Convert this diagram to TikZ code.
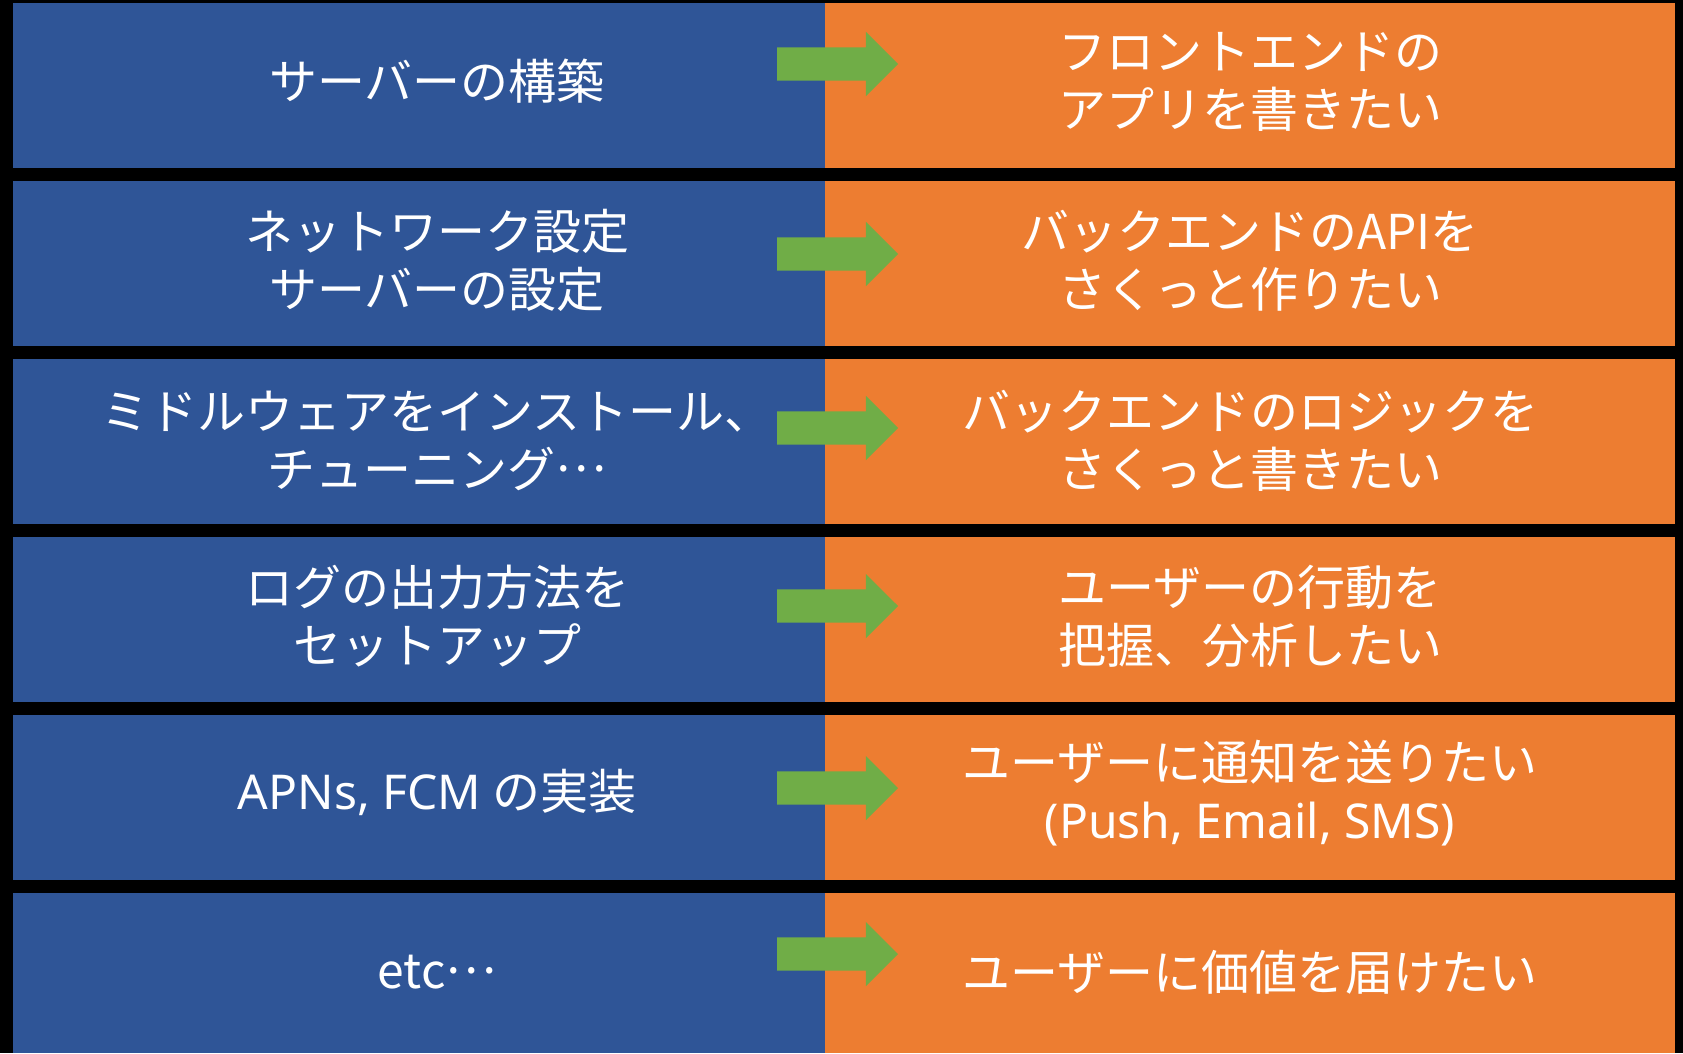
\documentclass[tikz,border=0pt]{standalone}
\usepackage{fontspec}
\setmainfont{Noto Sans CJK JP}
\newfontfamily\latinfont{Noto Sans}
\newcommand{\midots}{\smash{\raisebox{0.32em}{…}}}
\usetikzlibrary{shapes.arrows}
\definecolor{boxblue}{HTML}{2F5597}
\definecolor{boxorange}{HTML}{ED7D31}
\definecolor{arrowgreen}{HTML}{70AD47}

\begin{document}
\begin{tikzpicture}
  \tikzstyle{every node}=[inner sep=0pt, outer sep=0pt]
  \tikzstyle{lbox}=[rectangle, fill=boxblue, minimum width=812pt, minimum height=165pt]
  \tikzstyle{rbox}=[rectangle, fill=boxorange, minimum width=850pt, minimum height=165pt]
  \tikzstyle{boxtext}=[text=white, align=center, font=\fontsize{48pt}{58pt}\selectfont]
  \tikzstyle{fatarrow}=[single arrow, fill=arrowgreen, minimum height=121pt, single arrow head extend=15.5pt, single arrow tip angle=90, inner xsep=0pt, inner ysep=16.5pt, anchor=tail]
    \fill[black] (0pt,0pt) rectangle (1683pt,-1053pt);
    \matrix[anchor=north west, row sep=13pt, column sep=0pt] at (13pt,-3pt)
    {
      \node[lbox] (L1){}; & \node[rbox] (R1){}; \\
      \node[lbox] (L2){}; & \node[rbox] (R2){}; \\
      \node[lbox] (L3){}; & \node[rbox] (R3){}; \\
      \node[lbox] (L4){}; & \node[rbox] (R4){}; \\
      \node[lbox] (L5){}; & \node[rbox] (R5){}; \\
      \node[lbox, minimum height=160pt] (L6){}; & \node[rbox, minimum height=160pt] (R6){}; \\
    };
    % what we do
    \node[boxtext] (T1) at ([xshift=18pt, yshift=4pt]L1) {サーバーの構築};
    \node[boxtext] (T2) at ([xshift=18pt, yshift=3pt]L2) {ネットワーク設定\\サーバーの設定};
    \node[boxtext] (T3) at ([xshift=18pt, yshift=1pt]L3) {ミドルウェアをインストール、\\チューニング\midots};
    \node[boxtext] (T4) at ([xshift=18pt, yshift=3pt]L4) {ログの出力方法を\\セットアップ};
    \node[boxtext] (T5) at ([xshift=18pt, yshift=5pt]L5) {{\latinfont APNs, FCM} の実装};
    \node[boxtext] (T6) at ([xshift=18pt, yshift=1pt]L6) {etc\midots};
    % what we want
    \node[boxtext] (U1) at ([yshift=4pt]R1) {フロントエンドの\\アプリを書きたい};
    \node[boxtext] (U2) at ([yshift=3pt]R2) {バックエンドのAPIを\\さくっと作りたい};
    \node[boxtext] (U3) at ([yshift=1pt]R3) {バックエンドのロジックを\\さくっと書きたい};
    \node[boxtext] (U4) at ([yshift=3pt]R4) {ユーザーの行動を\\把握、分析したい};
    \node[boxtext] (U5) at ([yshift=4pt]R5) {ユーザーに通知を送りたい\\{\latinfont (Push, Email, SMS)}};
    \node[boxtext] (U6) at ([yshift=1pt]R6) {ユーザーに価値を届けたい};
    \node[fatarrow] (A1) at ([xshift=-48pt, yshift=21.5pt]L1.east) {};
    \node[fatarrow] (A2) at ([xshift=-48pt, yshift=9.5pt]L2.east) {};
    \node[fatarrow] (A3) at ([xshift=-48pt, yshift=13.5pt]L3.east) {};
    \node[fatarrow] (A4) at ([xshift=-48pt, yshift=13.5pt]L4.east) {};
    \node[fatarrow] (A5) at ([xshift=-48pt, yshift=9.5pt]L5.east) {};
    \node[fatarrow] (A6) at ([xshift=-48pt, yshift=19pt]L6.east) {};
  \end{tikzpicture}
\end{document}
